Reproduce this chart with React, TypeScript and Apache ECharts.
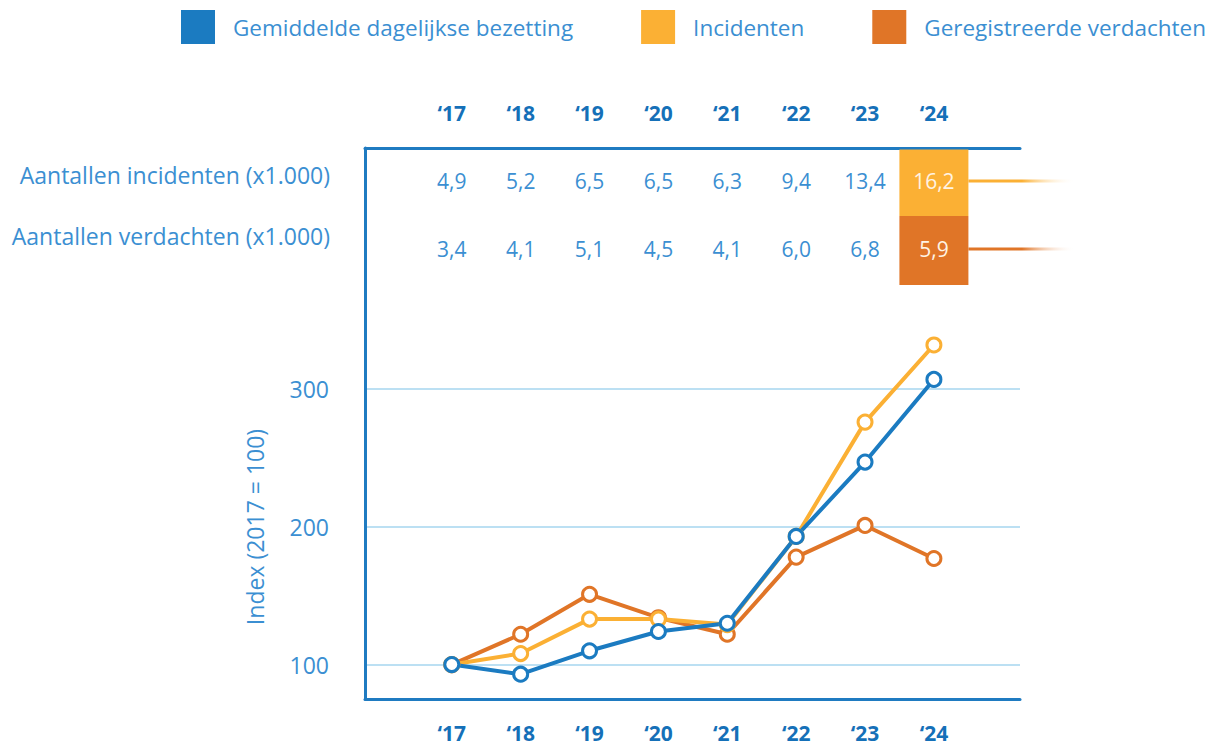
import React, { useEffect, useRef } from "react";
import * as echarts from "echarts";

const years = ["‘17", "‘18", "‘19", "‘20", "‘21", "‘22", "‘23", "‘24"];
const bezetting = [100, 93, 110, 124, 130, 193, 247, 307];
const incidenten = [100, 108, 133, 133, 129, 193, 276, 332];
const verdachten = [100, 122, 151, 134, 122, 178, 201, 177];
const incidentenAantal = [4.9, 5.2, 6.5, 6.5, 6.3, 9.4, 13.4, 16.2];
const verdachtenAantal = [3.4, 4.1, 5.1, 4.5, 4.1, 6.0, 6.8, 5.9];
const yTicks = [100, 200, 300];
const rowLabels = ["Aantallen incidenten (x1.000)", "Aantallen verdachten (x1.000)"];
const seriesNames = ["Gemiddelde dagelijkse bezetting", "Incidenten", "Geregistreerde verdachten"];
const yAxisName = "Index (2017 = 100)";

const BLUE = "#1b7bc1";
const YELLOW = "#fbb034";
const ORANGE = "#e07527";
const TEXT = "#3b8fd2";
const AXIS = "#1f7bc1";
const GRIDC = "#a6d6ef";
const FONT = "'Open Sans', sans-serif";

export default function App() {
  const ref = useRef<HTMLDivElement>(null);
  useEffect(() => {
    if (!ref.current) return;
    const chart = echarts.init(ref.current, null, { renderer: "svg" });
    const tableData: number[][] = [];
    incidentenAantal.forEach((v, i) => tableData.push([i, 0, v]));
    verdachtenAantal.forEach((v, i) => tableData.push([i, 1, v]));
    const lastIdx = years.length - 1;
    const rowColors = [YELLOW, ORANGE];

    const lineSeries = (name: string, data: number[], color: string) => ({
      name,
      type: "line",
      data: data.map((v, i) => [i, v]),
      symbol: "circle",
      symbolSize: 14,
      color,
      lineStyle: { color, width: 4 },
      itemStyle: { color: "#ffffff", borderColor: color, borderWidth: 3 },
      emphasis: { disabled: true },
      z: 3,
    });

    const xLabel = (margin: number) => ({
      customValues: years.map((_, i) => i),
      formatter: (v: number) => years[Math.round(v)] ?? "",
      color: "#1570b8",
      fontSize: 21,
      fontWeight: "bold",
      fontFamily: FONT,
      margin,
    });

    chart.setOption({
      animation: false,
      grid: { left: 365, right: 196, top: 148, bottom: 48 },
      legend: {
        left: 181,
        top: 10,
        width: 1100,
        padding: 0,
        itemWidth: 34,
        itemHeight: 34,
        itemGap: 68,
        icon: "rect",
        selectedMode: false,
        textStyle: { color: TEXT, fontSize: 22.5, fontFamily: FONT, padding: [0, 0, 0, 13] },
        data: [
          { name: seriesNames[0], itemStyle: { color: BLUE, borderWidth: 0 } },
          { name: seriesNames[1], itemStyle: { color: YELLOW, borderWidth: 0 } },
          { name: seriesNames[2], itemStyle: { color: ORANGE, borderWidth: 0 } },
        ],
      },
      xAxis: [
        {
          type: "value",
          position: "bottom",
          min: -1.26,
          max: 8.25,
          axisLine: { show: true, onZero: false, lineStyle: { color: AXIS, width: 3 } },
          axisTick: { show: false, customValues: years.map((_, i) => i) },
          splitLine: { show: false },
          axisLabel: xLabel(23),
        },
        {
          type: "value",
          position: "top",
          min: -1.26,
          max: 8.25,
          axisLine: { show: true, onZero: false, lineStyle: { color: AXIS, width: 3 } },
          axisTick: { show: false, customValues: years.map((_, i) => i) },
          splitLine: { show: false },
          axisLabel: xLabel(25),
        },
      ],
      yAxis: {
        type: "value",
        min: 75,
        max: 475,
        axisLine: { show: true, onZero: false, lineStyle: { color: AXIS, width: 3 } },
        axisTick: { show: false, customValues: yTicks },
        axisLabel: { customValues: yTicks, color: TEXT, fontSize: 23, fontFamily: FONT, margin: 36 },
        splitLine: { show: true, lineStyle: { color: GRIDC, width: 1.5 } },
      },
      graphic: [
        ...rowLabels.map((t, i) => ({
          type: "text",
          x: 330,
          y: i === 0 ? 175 : 236,
          style: {
            text: t,
            fill: TEXT,
            fontSize: 23,
            fontFamily: FONT,
            textAlign: "right",
            align: "right",
            textVerticalAlign: "middle",
            verticalAlign: "middle",
          },
        })),
        {
          type: "text",
          x: 255,
          y: 527,
          rotation: Math.PI / 2,
          style: {
            text: yAxisName,
            fill: TEXT,
            fontSize: 23,
            fontFamily: FONT,
            textAlign: "center",
            align: "center",
            textVerticalAlign: "middle",
            verticalAlign: "middle",
          },
        },
      ],
      series: [
        {
          name: "tabel",
          type: "custom",
          clip: false,
          silent: true,
          data: tableData,
          renderItem: (params: any, api: any) => {
            const xi = api.value(0);
            const row = api.value(1);
            const val = api.value(2);
            const [cx] = api.coord([xi, 100]);
            const top = params.coordSys.y;
            const cy = top + (row === 0 ? 33 : 101);
            const text = Number(val).toFixed(1).replace(".", ",");
            const children: any[] = [];
            const isLast = xi === lastIdx;
            if (isLast) {
              const color = rowColors[row];
              children.push({
                type: "rect",
                shape: { x: cx - 34.5, y: row === 0 ? top + 1.5 : top + 68, width: 69, height: row === 0 ? 66.5 : 69 },
                style: { fill: color },
              });
              children.push({
                type: "rect",
                shape: { x: cx + 34.5, y: cy - 1.5, width: 107, height: 3 },
                style: {
                  fill: new echarts.graphic.LinearGradient(0, 0, 1, 0, [
                    { offset: 0, color },
                    { offset: 0.5, color },
                    { offset: 1, color: "rgba(255,255,255,0)" },
                  ]),
                },
              });
            }
            children.push({
              type: "text",
              x: cx,
              y: cy,
              style: {
                text,
                fill: isLast ? "#fff3e3" : TEXT,
                fontSize: 21,
                fontFamily: FONT,
                textAlign: "center",
                align: "center",
                textVerticalAlign: "middle",
                verticalAlign: "middle",
              },
            });
            return { type: "group", children };
          },
          z: 2,
        },
        lineSeries(seriesNames[2], verdachten, ORANGE),
        lineSeries(seriesNames[1], incidenten, YELLOW),
        lineSeries(seriesNames[0], bezetting, BLUE),
      ],
    });
    return () => chart.dispose();
  }, []);
  return (
    <div
      ref={ref}
      style={{ position: "fixed", left: 0, top: 0, width: 1216, height: 747, background: "#ffffff" }}
    />
  );
}
